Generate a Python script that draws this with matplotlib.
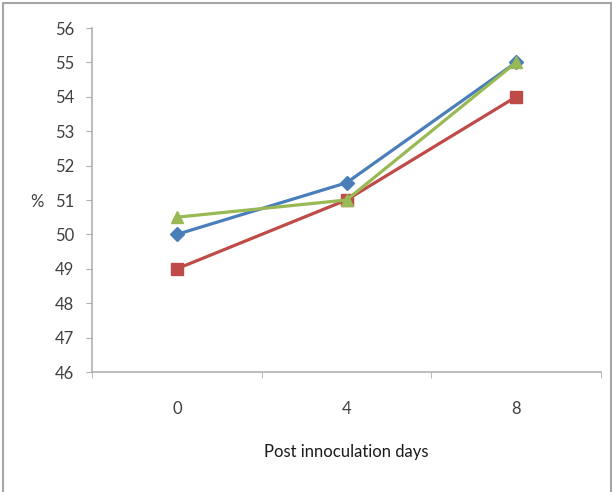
import numpy as np
import matplotlib.pyplot as plt
from matplotlib.patches import Rectangle

days = ['0', '4', '8']
series_blue = [50, 51.5, 55]
series_red = [49, 51, 54]
series_green = [50.5, 51, 55]

plt.rcParams['font.family'] = ['Lato', 'DejaVu Sans']

fig = plt.figure(figsize=(6.13, 4.92), dpi=100)
ax = fig.add_axes([92/613, 120/492, 509/613, 344/492])

# outer chart frame
fig.patches.append(Rectangle((3/613, -0.05), 608/613, 1.05 - 3/492, transform=fig.transFigure,
                             fill=False, edgecolor='#a6a6a6', linewidth=1.5))

x = np.arange(len(days))
ax.plot(x, series_blue, color='#4a7ebb', lw=2.3, marker='D', ms=7, zorder=3)
ax.plot(x, series_red, color='#be4b48', lw=2.3, marker='s', ms=9, zorder=3)
ax.plot(x, series_green, color='#98b954', lw=2.3, marker='^', ms=9, zorder=4)

ax.set_xlim(-0.5, 2.5)
ax.set_ylim(46, 56)
ax.set_yticks(np.arange(46, 57, 1))
ax.set_xticks(x)
ax.set_xticklabels(days)
ax.set_xticks([-0.5, 0.5, 1.5, 2.5], minor=True)
ax.tick_params(axis='x', which='major', length=0, pad=21, labelsize=12, labelcolor='#404040')
ax.tick_params(axis='x', which='minor', length=4, color='#b0b0b0', direction='out')
ax.tick_params(axis='y', length=4, color='#b0b0b0', labelsize=12, labelcolor='#404040', pad=9)

for s in ['top', 'right']:
    ax.spines[s].set_visible(False)
for s in ['left', 'bottom']:
    ax.spines[s].set_color('#b0b0b0')
    ax.spines[s].set_linewidth(1.2)

ax.set_xlabel('Post innoculation days', fontsize=12, labelpad=19, color='#1a1a1a')
ax.set_ylabel('%', fontsize=12, rotation=0, color='#404040')
ax.yaxis.set_label_coords(-0.108, 0.47)

fig.savefig('out.png', dpi=100)
